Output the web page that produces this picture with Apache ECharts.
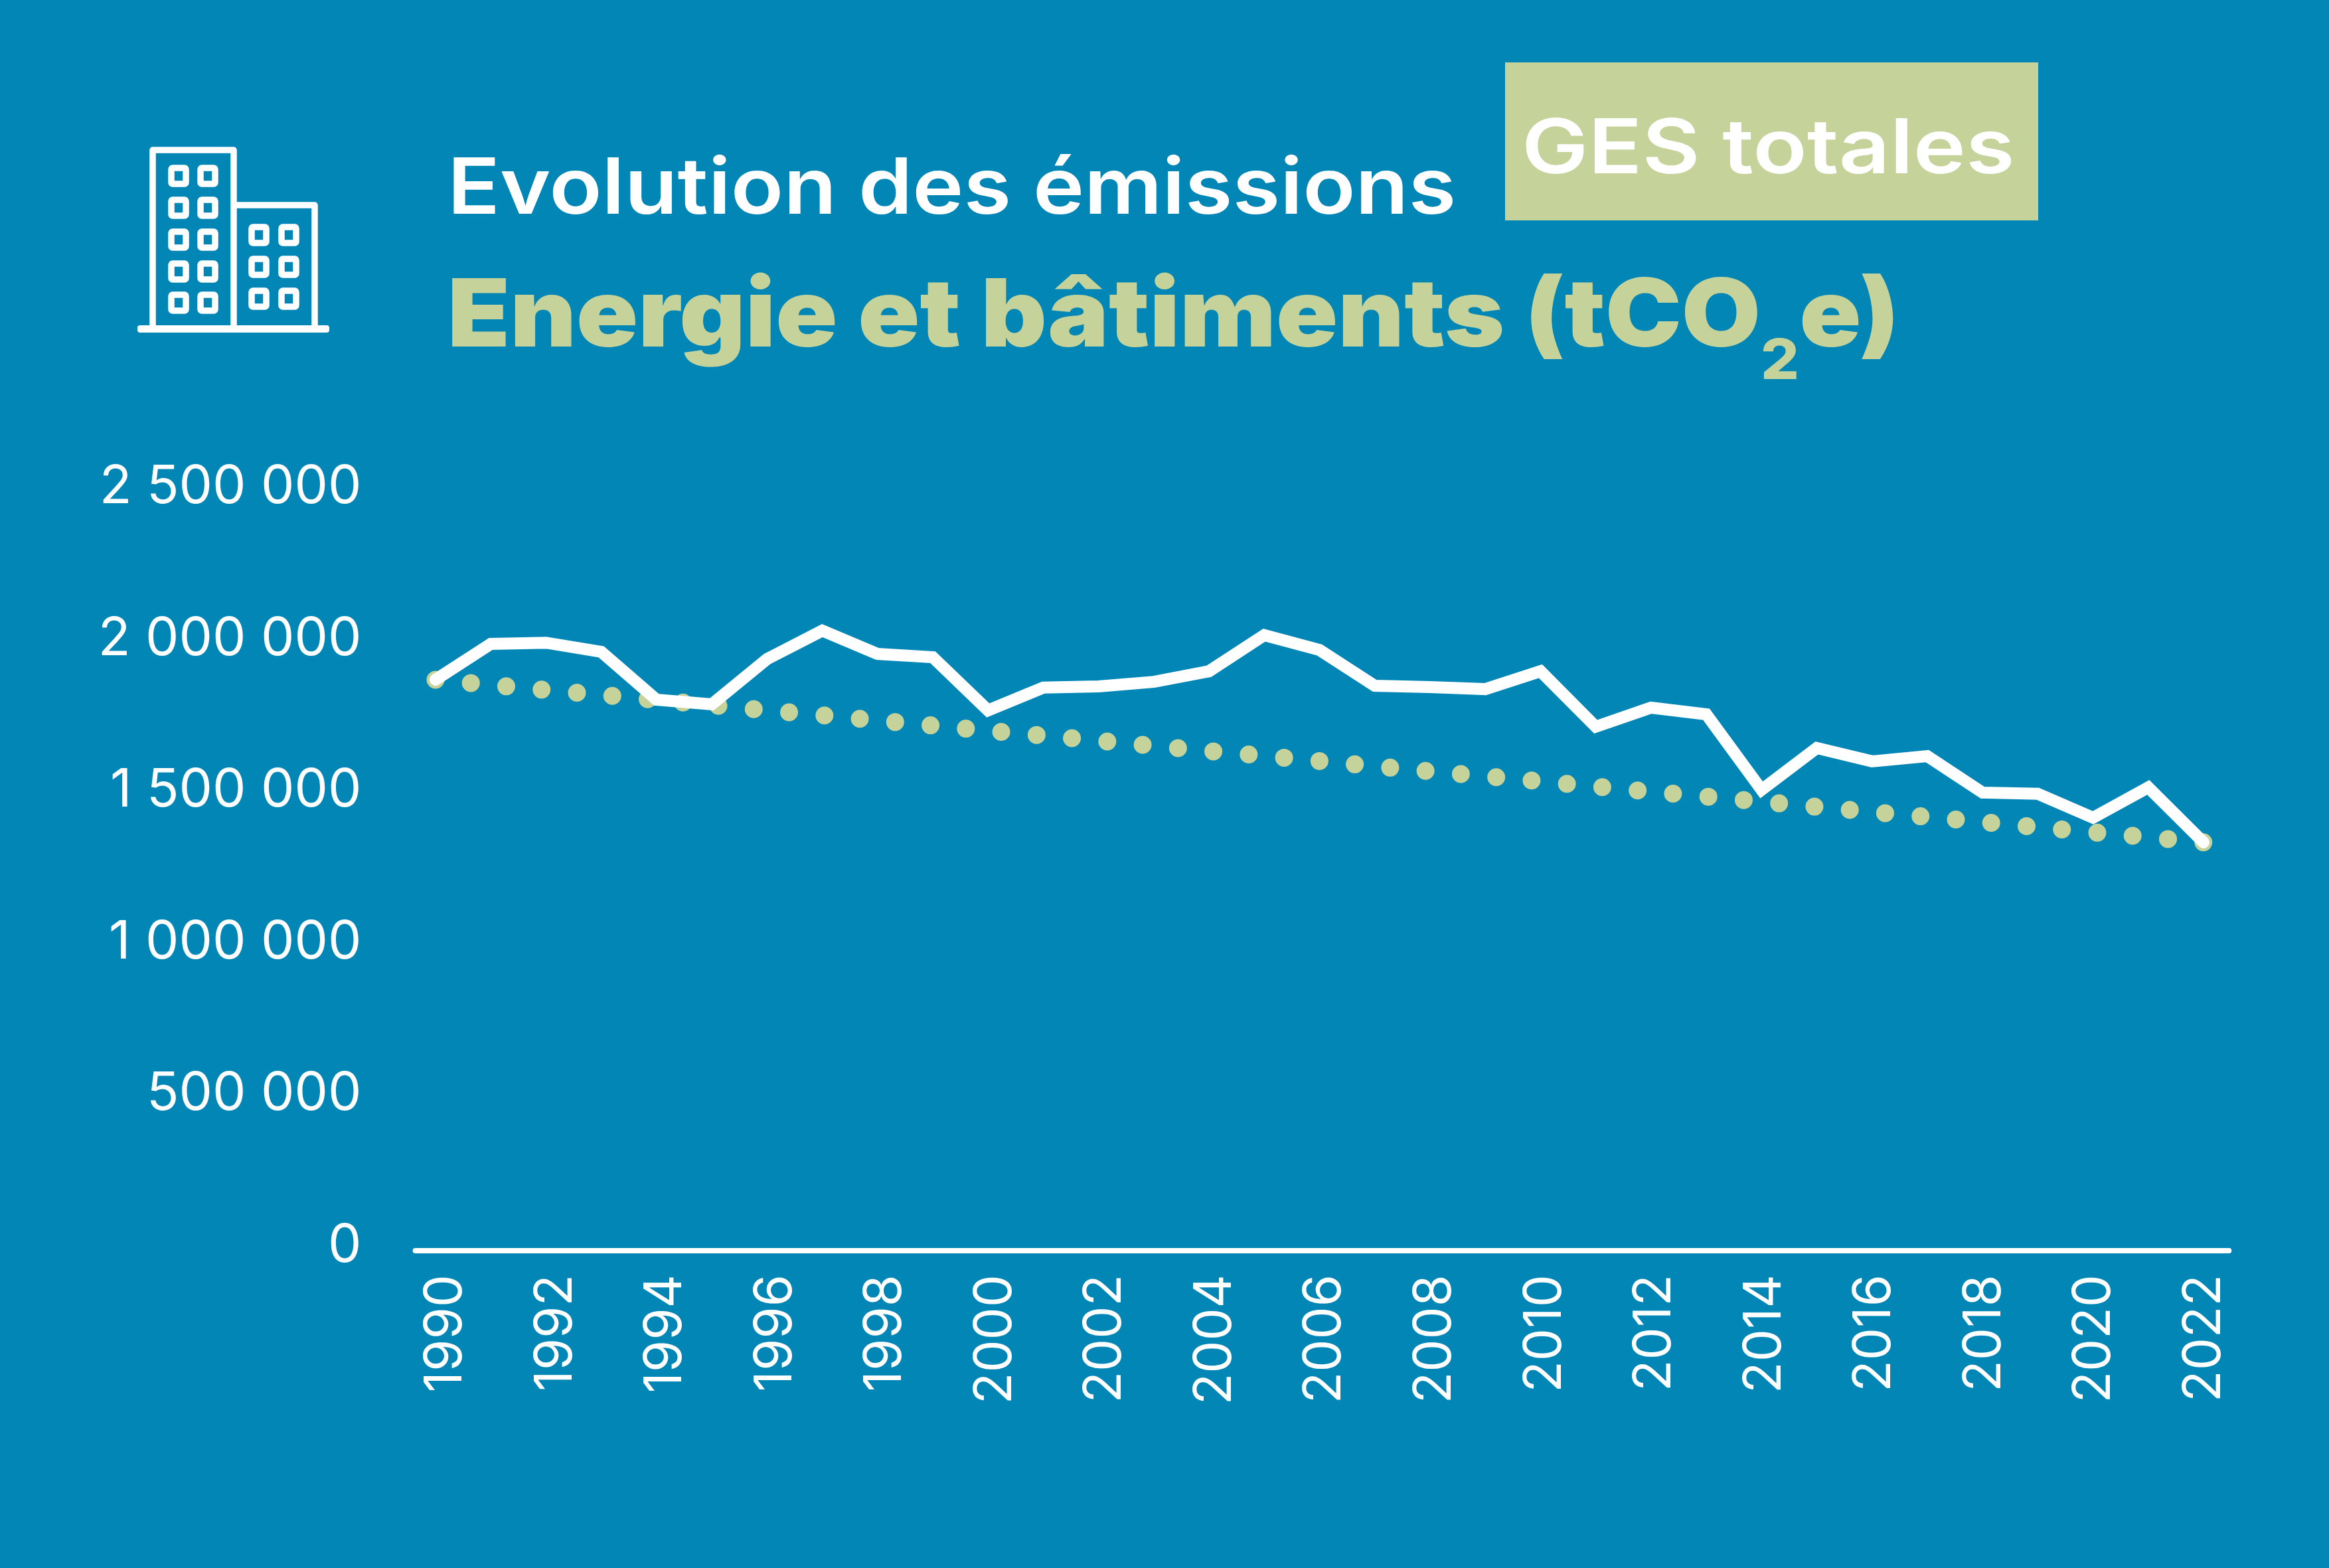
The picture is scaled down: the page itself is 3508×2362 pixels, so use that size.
<!DOCTYPE html>
<html>
<head>
<meta charset="utf-8">
<title>Energie et bâtiments</title>
<script src="https://cdn.jsdelivr.net/npm/echarts@6/dist/echarts.min.js"></script>
<style>
  html, body { margin: 0; padding: 0; background: #0286b6; }
  #chart { width: 3508px; height: 2362px; }
</style>
</head>
<body>
<div id="chart"></div>
<script>
const years = ['1990','1991','1992','1993','1994','1995','1996','1997','1998','1999','2000',
  '2001','2002','2003','2004','2005','2006','2007','2008','2009','2010',
  '2011','2012','2013','2014','2015','2016','2017','2018','2019','2020','2021','2022'];

const emissions = [1882000,2000000,2004000,1974000,1816000,1801000,1950000,2044000,1967000,1956000,1781000,
  1856000,1860000,1875000,1910000,2029000,1980000,1862000,1858000,1851000,1910000,
  1727000,1790000,1768000,1519000,1657000,1613000,1630000,1510000,1506000,1427000,1527000,1346000];

const trend = [1882000,1865000,1848000,1832000,1815000,1798000,1781000,1765000,1748000,1731000,1714000,
  1698000,1681000,1664000,1647000,1631000,1614000,1597000,1580000,1564000,1547000,
  1530000,1513000,1497000,1480000,1463000,1446000,1430000,1413000,1396000,1379000,1363000,1346000];

const BLUE = '#0286b6';
const GREEN = '#c5d39a';
const WHITE = '#ffffff';
const FONT = 'Inter';

// petit immeuble dessiné à la main (icône décorative)
function buildingIcon() {
  let items = [];
  let stroke = { stroke: WHITE, fill: null, lineWidth: 9.5 };
  items.push({ type: 'polyline', shape: { points: [[230,495],[230,226],[352,226],[352,495]] }, style: { ...stroke, lineJoin: 'round' } });
  items.push({ type: 'polyline', shape: { points: [[352,309],[474,309],[474,495]] }, style: { ...stroke, lineJoin: 'round' } });
  items.push({ type: 'rect', shape: { x: 207, y: 490, width: 289, height: 11, r: 4 }, style: { fill: WHITE } });

  [[258,253],[302,253],[258,301],[302,301],[258,349],[302,349],[258,397],[302,397],[258,444],[302,444],
   [379,342],[424,342],[379,390],[424,390],[379,438],[424,438]].forEach((p) => {
    items.push({ type: 'rect', shape: { x: p[0], y: p[1], width: 22, height: 24, r: 2 }, style: { ...stroke } });
  });
  return items;
}

let myChart = echarts.init(document.getElementById('chart'), null, { renderer: 'canvas' });

myChart.setOption({
  animation: false,
  backgroundColor: BLUE,
  graphic: [
    { type: 'rect', shape: { x: 2267, y: 94, width: 803, height: 238 }, style: { fill: GREEN } },
    ...buildingIcon(),
    // les titres sont étirés : la police d'origine est plus large qu'Inter
    {
      type: 'text', x: 674, y: 228, scaleX: 1.115,
      style: { text: 'Evolution des émissions', fill: WHITE, fontFamily: FONT, fontWeight: 600, fontSize: 117 }
    },
    {
      type: 'text', x: 674, y: 370, scaleX: 1.083,
      style: {
        text: '{a|Energie et bâtiments (tCO}{s|2}{a|e)}',
        rich: {
          a: { fill: GREEN, fontFamily: FONT, fontWeight: 900, fontSize: 142 },
          s: { fill: GREEN, fontFamily: FONT, fontWeight: 800, fontSize: 84, padding: [134, 0, 0, 0] }
        }
      }
    },
    {
      type: 'text', x: 2292, y: 170, scaleX: 1.175,
      style: { text: 'GES totales', fill: WHITE, fontFamily: FONT, fontWeight: 600, fontSize: 114 }
    }
  ],
  grid: [
    { left: 614.4, top: 741.5, width: 2746.2, height: 1142.5 },
    { left: 625.6, top: 741.5, width: 2731.7, height: 1142.5 }
  ],
  xAxis: [
    { type: 'category', data: years, boundaryGap: true, show: false, gridIndex: 0 },
    {
      // axe visible : ses libellés n'ont pas tout à fait le même pas que les points
      type: 'category',
      data: years,
      gridIndex: 1,
      boundaryGap: true,
      axisLine: { lineStyle: { color: WHITE, width: 8 } },
      axisTick: { show: false },
      axisLabel: {
        interval: 1,
        rotate: 90,
        margin: 36,
        color: WHITE,
        fontFamily: FONT,
        fontSize: 78,
        verticalAlign: 'top',
        lineHeight: 9
      }
    }
  ],
  yAxis: [
    {
      type: 'value',
      gridIndex: 0,
      min: 0,
      max: 2500000,
      interval: 500000,
      axisLine: { show: false },
      axisTick: { show: false },
      splitLine: { show: false },
      axisLabel: {
        margin: 70,
        color: WHITE,
        fontFamily: FONT,
        fontSize: 80,
        verticalAlign: 'bottom',
        lineHeight: 15,
        formatter: (v) => String(v).replace(/\B(?=(\d{3})+$)/g, ' ')
      }
    },
    { type: 'value', gridIndex: 1, show: false, min: 0, max: 2500000 }
  ],
  series: [
    {
      name: 'Tendance',
      type: 'line',
      data: trend,
      symbol: 'none',
      clip: false,
      lineStyle: { color: GREEN, width: 27, type: [0, 53.48], cap: 'round' }
    },
    {
      name: 'Emissions',
      type: 'line',
      data: emissions,
      symbol: 'none',
      clip: false,
      lineStyle: { color: WHITE, width: 18, cap: 'round', join: 'miter' }
    }
  ]
});
</script>
</body>
</html>
